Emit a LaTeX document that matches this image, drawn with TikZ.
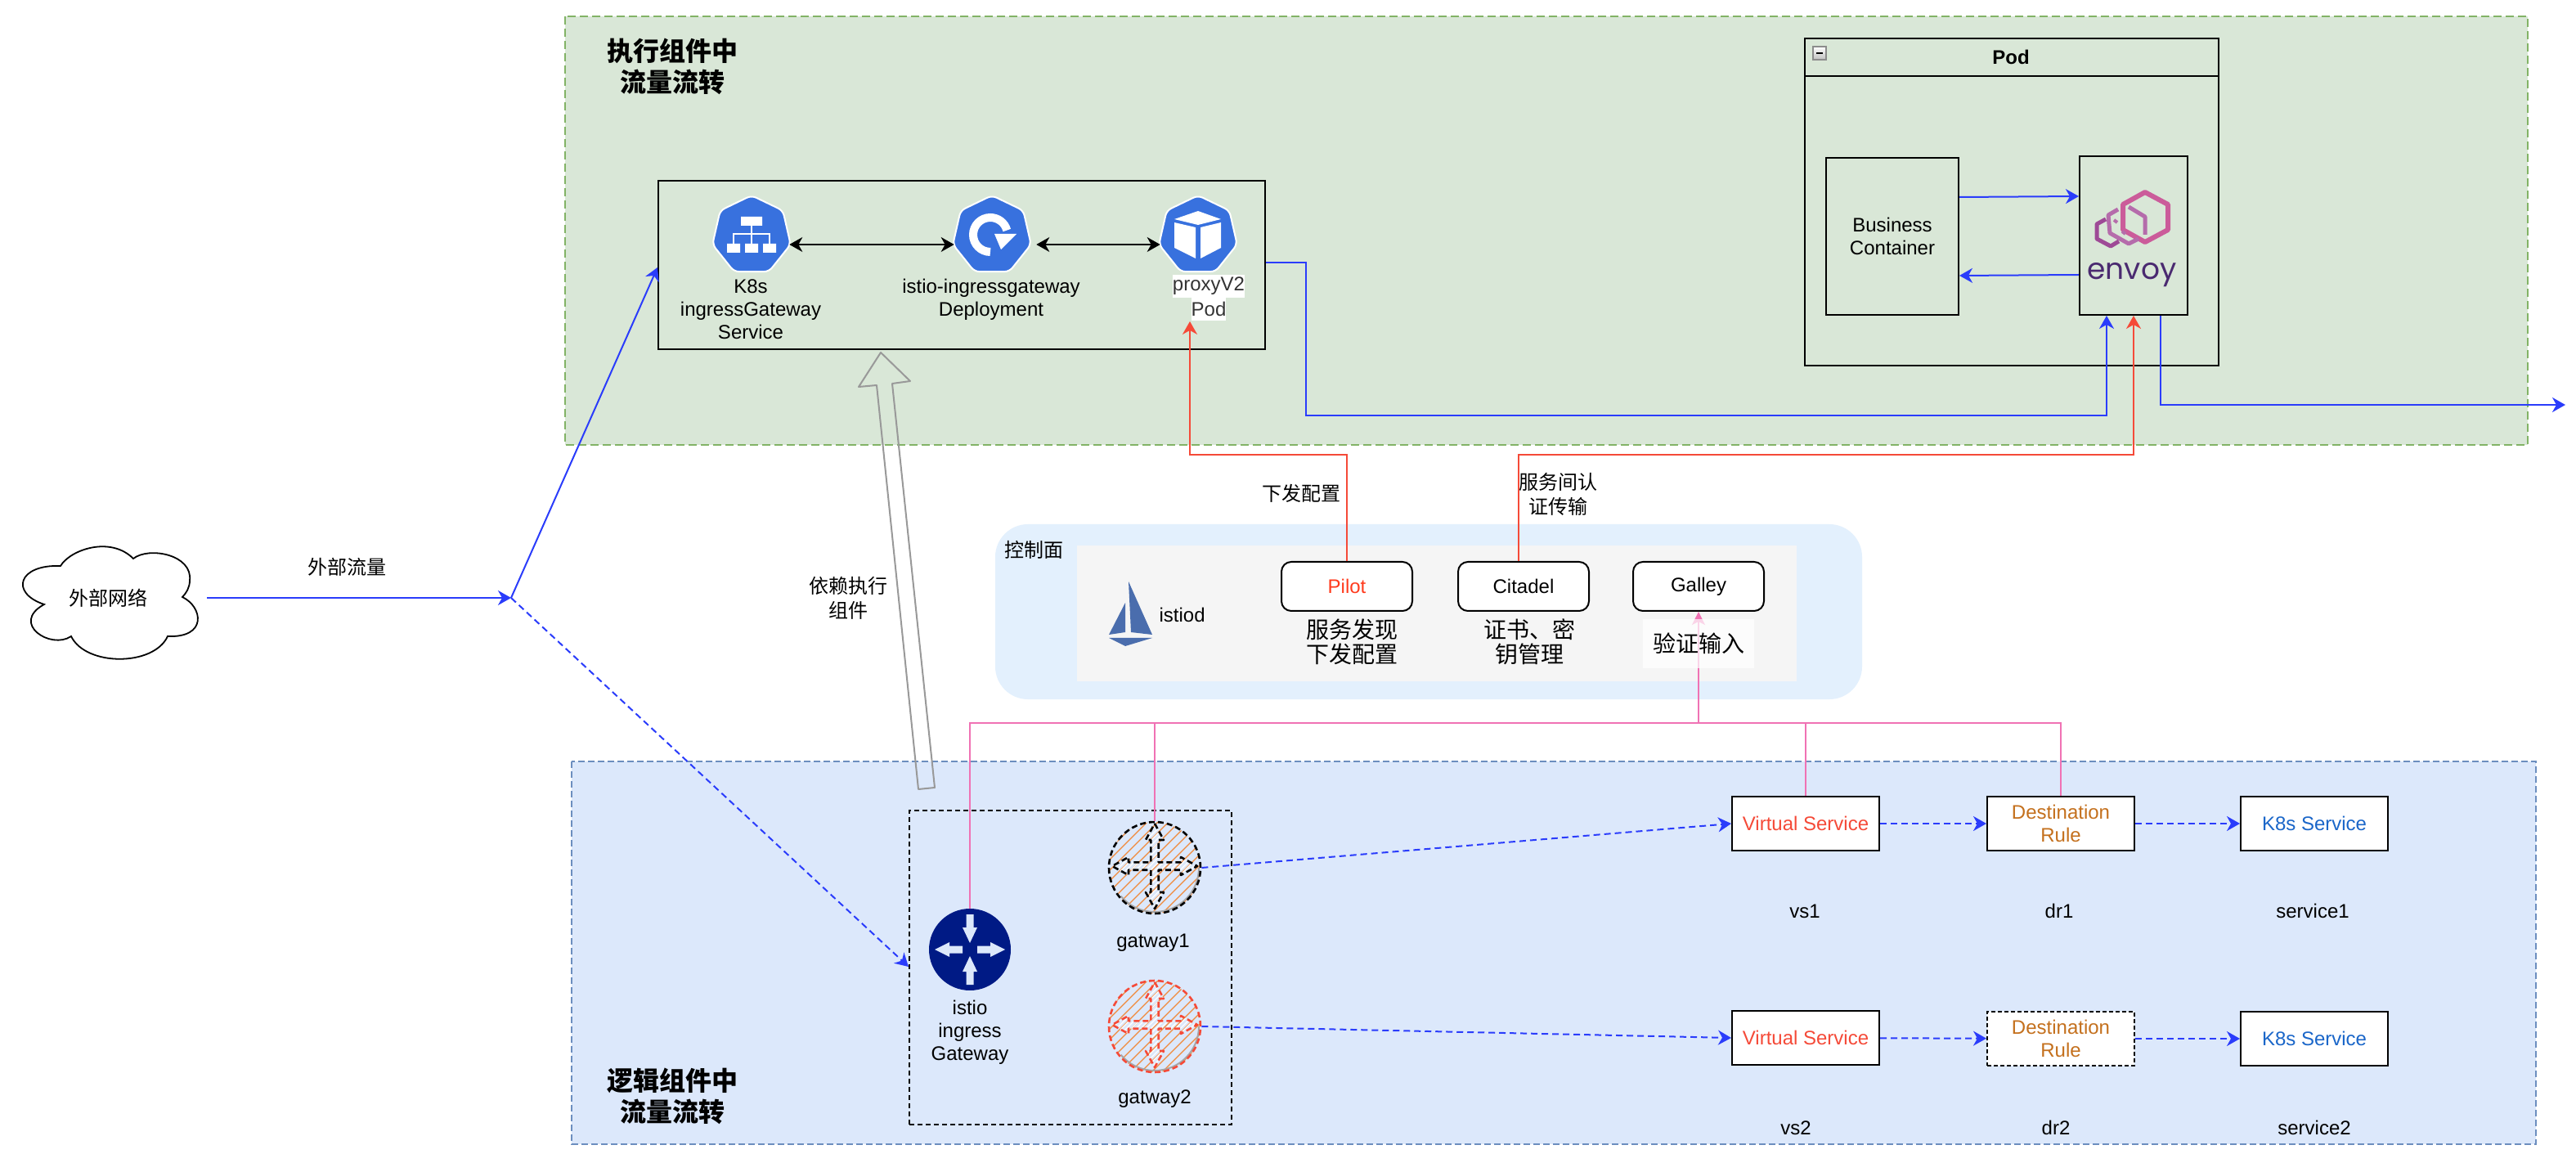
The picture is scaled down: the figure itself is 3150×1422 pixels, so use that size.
\documentclass[tikz,border=0pt]{standalone}
\usepackage{fontspec}
\setmainfont{Liberation Sans}
\newfontfamily\cjk{Noto Sans CJK SC}
\newfontfamily\envoyfont{Poppins}
\usetikzlibrary{arrows.meta,shapes.geometric}
\definecolor{execgreen}{HTML}{D9E7D7}
\definecolor{execedge}{HTML}{82B366}
\definecolor{logicblue}{HTML}{DCE8FB}
\definecolor{logicedge}{HTML}{6C8EBF}
\definecolor{planeblue}{HTML}{E3F0FD}
\definecolor{flowblue}{HTML}{2A3CFB}
\definecolor{flowred}{HTML}{F54A38}
\definecolor{linkpink}{HTML}{F072B4}
\definecolor{k8sblue}{HTML}{3871DE}
\definecolor{routerblue}{HTML}{001A85}
\definecolor{hatchorange}{HTML}{F08A3C}
\definecolor{sailblue}{HTML}{4A6DAD}
\definecolor{envoypink}{HTML}{CB5C9A}
\definecolor{envoymid}{HTML}{B56CAB}
\definecolor{envoyleft}{HTML}{9E4A96}
\definecolor{envoyink}{HTML}{4A2A70}
\tikzset{
  txt/.style={inner sep=0pt,align=center,font=\fontsize{12}{14}\selectfont},
  cntxt/.style={inner sep=0pt,align=center,font=\cjk\fontsize{12}{15}\selectfont},
  cnbig/.style={inner sep=0pt,align=center,font=\cjk\fontsize{14}{15}\selectfont},
  cntitle/.style={inner sep=0pt,align=center,font=\cjk\bfseries\fontsize{16}{19}\selectfont},
  box/.style={draw,line width=1pt,inner sep=0pt,align=center,font=\fontsize{12}{14}\selectfont},
  crbox/.style={box,fill=white,rounded corners=6pt,minimum width=80pt,minimum height=30pt},
  rulebox/.style={box,fill=white,minimum width=90pt,minimum height=33pt},
  k8shex/.style={regular polygon,regular polygon sides=7,minimum size=49pt,inner sep=0pt,
    fill=k8sblue,draw=white,line width=1pt,rounded corners=3pt},
  gatecircle/.style={circle,minimum size=56pt,inner sep=0pt,line width=1.3pt,
    dash pattern=on 3.5pt off 2pt,
    path picture={
      \begin{scope}[shift={(path picture bounding box.center)}]
        \foreach \d in {-130,-117,...,130}
          \draw[hatchorange,line width=.6pt,solid] (\d-60,60) -- (\d+60,-60);
        \draw[black!35,line width=1pt,solid] (54,0) arc[start angle=0,end angle=140,radius=54];
      \end{scope}}},
  flow/.style={flowblue,line width=1pt,-{Stealth[length=8pt,width=9pt,inset=2.5pt]}},
  flowdash/.style={flow,dash pattern=on 4pt off 2.5pt},
  redflow/.style={flowred,line width=1pt,-{Stealth[length=8pt,width=9pt,inset=2.5pt]}},
  pinkline/.style={linkpink,line width=1pt},
  both/.style={black,line width=1pt,{Stealth[length=8pt,width=9pt,inset=2.5pt]}-{Stealth[length=8pt,width=9pt,inset=2.5pt]}}
}
\newcommand{\crosspath}{(0,-52) -- (11,-32) -- (4.7,-32) -- (4.7,-4.7) -- (32,-4.7) -- (32,-11) -- (52,0)
    -- (32,11) -- (32,4.7) -- (4.7,4.7) -- (4.7,32) -- (11,32) -- (0,52) -- (-11,32)
    -- (-4.7,32) -- (-4.7,4.7) -- (-32,4.7) -- (-32,11) -- (-52,0) -- (-32,-11)
    -- (-32,-4.7) -- (-4.7,-4.7) -- (-4.7,-32) -- (-11,-32) -- cycle}
\newcommand{\gatecross}[2]{%
  \begin{scope}[shift={(#1)}]
    \begin{scope}
      \clip \crosspath;
      \foreach \d in {-66,-60,...,66}
        \draw[white,line width=.6pt] (\d-60,60) -- (\d+60,-60);
    \end{scope}
    \draw[#2,line width=1.3pt,dash pattern=on 3.5pt off 2pt,line join=round] \crosspath;
  \end{scope}}
\begin{document}
\begin{tikzpicture}[x=.5pt,y=-.5pt]
      \useasboundingbox (0,0) rectangle (3150,1422);
      \fill[white] (0,0) rectangle (3150,1422);
      \draw[fill=execgreen,draw=execedge,line width=1pt,dash pattern=on 5pt off 2.5pt] (691,20) rectangle (3091,544);
      \draw[fill=logicblue,draw=logicedge,line width=1pt,dash pattern=on 4pt off 2pt] (699,931) rectangle (3101,1399);
      \fill[planeblue,rounded corners=20pt] (1217,641) rectangle (2277,855);
      \fill[black!4] (1317,667) rectangle (2197,833);
      \node[cntitle] (exectitle) at (822,81) {执行组件中\\流量流转};
      \node[cntitle] (logictitle) at (822,1340) {逻辑组件中\\流量流转};

      \draw[line width=.9pt,fill=white]
        (74,692) .. controls (86,672) and (135,655) .. (163,683)
        .. controls (182,668) and (236,678) .. (232,710)
        .. controls (232,718) and (228,725) .. (223,730)
        .. controls (248,742) and (254,780) .. (205,778)
        .. controls (188,815) and (105,815) .. (87,778)
        .. controls (62,795) and (12,762) .. (54,739)
        .. controls (12,725) and (22,690) .. (74,692) -- cycle;
      \node[cntxt,minimum width=121pt,minimum height=10pt] (extnet) at (132,731) {外部网络};
      \coordinate (junction) at (625,731);
      \node[cntxt] (extflow) at (424,693) {外部流量};

      \node[box,minimum width=371pt,minimum height=103pt] (ingressbox) at (1176,324) {};
      \node[k8shex] (svc) at (919,288) {};
      \node[k8shex] (dep) at (1213,288) {};
      \node[k8shex] (pod) at (1465,288) {};
      \fill[white] (906,265) rectangle (932,276) (889,298) rectangle (905,309)
        (911,298) rectangle (927,309) (933,298) rectangle (949,309);
      \draw[white,line width=.8pt] (919,276) -- (919,298) (897,298) -- (897,286) -- (941,286) -- (941,298);
      \draw[white,line width=5pt] (1211,308) arc[start angle=90,end angle=345,radius=21];
      \fill[white] (1216,286) -- (1243,286) -- (1224,305) -- cycle;
      \fill[white] (1465,258) -- (1493,268) -- (1465,275) -- (1436,268) -- cycle;
      \fill[white] (1436,272) -- (1462,278) -- (1462,316) -- (1436,303) -- cycle;
      \fill[white] (1468,278) -- (1493,272) -- (1493,303) -- (1468,316) -- cycle;
      \node[txt] (svclabel) at (918,378) {K8s\\ingressGateway\\Service};
      \node[txt] (deplabel) at (1212,366) {istio-ingressgateway\\Deployment};
      \node[txt,fill=white,minimum height=14pt,text=black!80] (proxylabel) at (1478,350) {proxyV2};
      \node[txt,fill=white,minimum height=14.5pt,text=black!80] (podlabel) at (1478,378) {Pod};
      \draw[both] ([yshift=-5.5pt]svc.east) -- ([yshift=-5.5pt]dep.west);
      \draw[both] ([yshift=-5.5pt,xshift=4pt]dep.east) -- ([yshift=-5.5pt]pod.west);

      \node[box,minimum width=253pt,minimum height=200pt] (podbox) at (2460,247) {};
      \draw[line width=1pt] (podbox.west |- 0,93) -- (podbox.east |- 0,93);
      \node[txt,font=\bfseries\fontsize{12}{14}\selectfont] (podtitle) at (2459,70) {Pod};
      \draw[draw=black!45,line width=.8pt,top color=white,bottom color=black!25] (2217,57) rectangle (2233,73);
      \draw[black,line width=1pt] (2221,65) -- (2229,65);
      \node[box,minimum width=81pt,minimum height=96pt] (business) at (2314,289) {Business\\Container};
      \node[box,minimum width=66pt,minimum height=97pt] (envoybox) at (2609,288) {};
      \draw[envoymid,line width=2.5pt,line join=round] (2603,253) -- (2623,265) -- (2623,287);
      \draw[envoypink,line width=3pt,line join=round] (2623,235) -- (2651,250) -- (2651,281) -- (2623,296) -- (2596,281) -- (2596,250) -- cycle;
      \draw[envoymid,line width=2.5pt,line join=round] (2590,256) -- (2578,263) -- (2580,285) -- (2603,298) -- (2615,292);
      \draw[envoymid,line width=2pt] (2585,269) -- (2589,272) (2595,283) -- (2599,286);
      \draw[envoyleft,line width=2.5pt,line join=round] (2575,268) -- (2564,274) -- (2564,292) -- (2581,301) -- (2591,295);
      \node[inner sep=0pt,text=envoyink,font=\envoyfont\fontsize{18}{20}\selectfont] (envoylabel) at (2607,336) {envoy};
      \draw[flow] ([yshift=24pt]business.east) -- ([yshift=24pt]envoybox.west);
      \draw[flow] ([yshift=-24pt]envoybox.west) -- ([yshift=-24pt]business.east);

      \coordinate (exit) at (3137,495);
      \draw[flow] ([yshift=1.5pt]ingressbox.east) -- (1597,321) -- (1597,508) -| ([xshift=-16.5pt]envoybox.south);
      \draw[flow] ([xshift=16.5pt]envoybox.south) |- (exit);

      \node[txt,left] (istiolabel) at (1474,752) {istiod};
      \fill[sailblue] (1380,711) -- (1409,776) -- (1383,773) -- cycle;
      \fill[sailblue] (1376,737) -- (1376,773) -- (1356,776) -- cycle;
      \fill[sailblue] (1356,780) -- (1409,780) -- (1376,790) -- cycle;
      \node[cntxt] (planelabel) at (1264,672) {控制面};
      \node[crbox,text={rgb,255:red,255;green,59;blue,29}] (pilot) at (1647,717) {Pilot};
      \node[crbox] (citadel) at (1863,717) {Citadel};
      \node[crbox] (galley) at (2077,717) {Galley};
      \node[cnbig] (pilotlabel) at (1653,785) {服务发现\\下发配置};
      \node[cnbig] (citadellabel) at (1870,785) {证书、密\\钥管理};
      \draw[redflow] (pilot.north) -- ++(0,-130) -| ([xshift=-11.5pt]podlabel.south);
      \draw[redflow] ([xshift=-3pt]citadel.north) -- ++(0,-130) -| (envoybox.south);
      \node[cntxt] (pushlabel) at (1591,603) {下发配置};
      \node[cntxt] (mtlslabel) at (1905,604) {服务间认\\证传输};
      \node[cntxt] (dependlabel) at (1037,731) {依赖执行\\组件};

      \draw[flow] (extnet) -- (junction);
      \draw[flow] (junction) -- ([yshift=-1pt]ingressbox.south west |- 0,325);

      \node[box,dash pattern=on 3pt off 2pt,minimum width=197pt,minimum height=192pt] (gatebox) at (1309,1183) {};
      \draw[flowdash] (junction) -- (gatebox.west |- 0,1182);
      \node[circle,minimum size=50pt,inner sep=0pt,fill=routerblue] (router) at (1186,1161) {};
      \begin{scope}[shift={(router.center)}]
        \foreach \a in {0,180}
          \fill[logicblue,rotate=\a] (9,-4.5) -- (25,-4.5) -- (25,-9) -- (43,0) -- (25,9) -- (25,4.5) -- (9,4.5) -- cycle;
        \foreach \a in {90,270}
          \fill[logicblue,rotate=\a] (43,-4.5) -- (27,-4.5) -- (27,-9) -- (8,0) -- (27,9) -- (27,4.5) -- (43,4.5) -- cycle;
      \end{scope}
      \node[txt] (routerlabel) at (1186,1262) {istio\\ingress\\Gateway};
      \node[gatecircle,draw=black] (gatway1) at (1412,1061) {};
      \node[gatecircle,draw=flowred] (gatway2) at (1412,1255) {};
      \gatecross{1412,1059}{black}
      \gatecross{1412,1253}{flowred}
      \node[txt] (gatway1label) at (1410,1153) {gatway1};
      \node[txt] (gatway2label) at (1412,1344) {gatway2};

      \node[rulebox,text=flowred] (vs1) at (2208,1007) {Virtual Service};
      \node[rulebox,text={rgb,255:red,196;green,112;blue,29}] (dr1) at (2520,1007) {Destination\\Rule};
      \node[rulebox,text={rgb,255:red,26;green,102;blue,201}] (svc1) at (2830,1007) {K8s Service};
      \node[rulebox,text=flowred] (vs2) at (2208,1269) {Virtual Service};
      \node[rulebox,dash pattern=on 2.5pt off 1.5pt,text={rgb,255:red,196;green,112;blue,29}] (dr2) at (2520,1270) {Destination\\Rule};
      \node[rulebox,text={rgb,255:red,26;green,102;blue,201}] (svc2) at (2830,1270) {K8s Service};
      \node[txt] (vs1label) at (2207,1114) {vs1};
      \node[txt] (dr1label) at (2518,1114) {dr1};
      \node[txt] (svc1label) at (2828,1114) {service1};
      \node[txt] (vs2label) at (2196,1379) {vs2};
      \node[txt] (dr2label) at (2514,1379) {dr2};
      \node[txt] (svc2label) at (2830,1379) {service2};
      \draw[flowdash] (gatway1.east) -- (vs1.west);
      \draw[flowdash] (gatway2.east) -- (vs2.west);
      \draw[flowdash] (vs1) -- (dr1);
      \draw[flowdash] (dr1) -- (svc1);
      \draw[flowdash] (vs2) -- (dr2);
      \draw[flowdash] (dr2) -- (svc2);

      \coordinate (bus) at (2077,884);
      \draw[pinkline] (router.north) |- (bus);
      \draw[pinkline] (gatway1.north) |- (bus);
      \draw[pinkline] (vs1.north) |- (bus);
      \draw[pinkline] (dr1.north) |- (bus);
      \draw[pinkline,-{Stealth[length=8pt,width=8pt,inset=2pt]}] (bus) -- (galley.south);
      \node[cnbig,fill=white,fill opacity=.7,text opacity=1,minimum width=68pt,minimum height=30pt] (galleylabel) at (2077,787) {验证输入};

      \draw[black!40,line width=1pt,line join=round]
        (1077,431) -- (1113,466) -- (1091,469) -- (1143,963) -- (1123,965) -- (1072,471) -- (1050,473) -- cycle;
    \end{tikzpicture}
\end{document}
